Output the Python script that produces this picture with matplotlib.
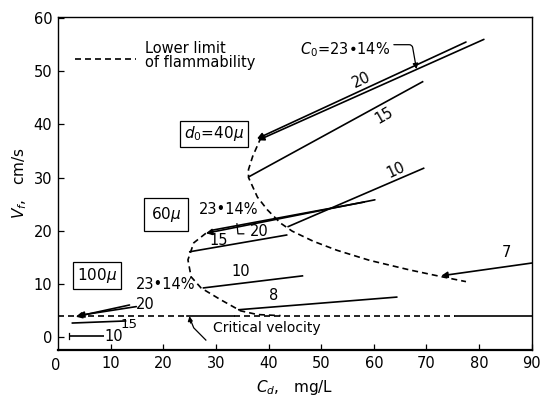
import matplotlib
matplotlib.use('Agg')
import matplotlib.pyplot as plt

plt.rcParams['font.family'] = ['DejaVu Sans']

# lower limit of flammability curves
limit_40_x = [38.6, 37.0, 36.2, 36.2, 37.9, 39.8, 42.3, 44.5, 48.5, 53.0, 59.2, 66.8, 73.0, 77.5]
limit_40_y = [37.6, 34.0, 31.5, 30.0, 26.3, 23.9, 21.4, 19.9, 18.0, 16.3, 14.4, 12.6, 11.3, 10.4]
limit_60_x = [28.1, 25.8, 24.7, 25.3, 27.2, 30.9, 34.7, 37.9, 42.3]
limit_60_y = [19.5, 17.7, 14.5, 11.3, 9.2, 7.0, 4.9, 4.2, 4.0]

critical_v = 4.0
critical_dashed = [(0, 24.5), (33.5, 75.5)]
critical_solid = [(24.5, 33.5), (75.5, 90)]

# V_f lines, (x_start, x_end), (y_start, y_end)
d40_x = {'23.14': (37.8, 77.5), '20': (38.0, 80.9), '15': (36.2, 69.4), '10': (43.6, 69.6), '7': (72.8, 90.0)}
d40_y = {'23.14': (37.3, 55.5), '20': (37.0, 56.0), '15': (30.1, 48.1), '10': (20.7, 31.8), '7': (11.5, 13.9)}
d60_x = {'23.14': (28.1, 60.2), '20': (29.4, 58.3), '15': (24.9, 43.6), '10': (27.5, 46.6), '8': (34.2, 64.5)}
d60_y = {'23.14': (19.5, 25.8), '20': (20.1, 25.4), '15': (16.0, 19.2), '10': (9.2, 11.5), '8': (5.1, 7.5)}
d100_x = {'23.14': (3.4, 13.6), '20': (3.8, 14.9), '15': (2.6, 13.0), '10': (2.1, 8.7)}
d100_y = {'23.14': (3.8, 6.0), '20': (4.0, 5.7), '15': (2.6, 3.0), '10': (0.2, 0.2)}

arrowed = {'40': ['23.14', '20', '7'], '60': ['23.14'], '100': ['23.14', '20']}

x_ticks = [10, 20, 30, 40, 50, 60, 70, 80, 90]
x_tick_labels = ['10', '20', '30', '40', '50', '60', '70', '80', '90']
y_ticks = [0, 10, 20, 30, 40, 50, 60]
y_tick_labels = ['0', '10', '20', '30', '40', '50', '60']

DASH = (3.6, 2.4)
LW = 1.2


def draw_lines(ax, xs, ys, arrows, lw=LW):
    for key in xs:
        x0, x1 = xs[key]
        y0, y1 = ys[key]
        if key in arrows:
            ax.annotate('', xy=(x0, y0), xytext=(x1, y1),
                        arrowprops=dict(arrowstyle='-|>', lw=lw, color='black',
                                        mutation_scale=9, shrinkA=0, shrinkB=0))
        else:
            ax.plot([x0, x1], [y0, y1], color='black', lw=lw, solid_capstyle='butt')


def box_label(ax, x, y, text, pad=0.25):
    ax.text(x, y, text, ha='center', va='center', fontsize=11,
            bbox=dict(boxstyle='square,pad=%s' % pad, facecolor='white', edgecolor='black', lw=0.9))


fig = plt.figure(figsize=(5.46, 3.97), dpi=100)
ax = fig.add_axes([0.106, 0.118, 0.868, 0.839])
ax.set_xlim(0, 90)
ax.set_ylim(-2.5, 60.2)

# flammability limits and critical velocity
ax.plot(limit_40_x, limit_40_y, color='black', lw=LW, dashes=DASH)
ax.plot(limit_60_x, limit_60_y, color='black', lw=LW, dashes=DASH)
for a, b in critical_dashed:
    ax.plot([a, b], [critical_v, critical_v], color='black', lw=LW, dashes=DASH)
for a, b in critical_solid:
    ax.plot([a, b], [critical_v, critical_v], color='black', lw=LW)

draw_lines(ax, d40_x, d40_y, arrowed['40'])
draw_lines(ax, d60_x, d60_y, arrowed['60'])
draw_lines(ax, d100_x, d100_y, arrowed['100'])
ax.plot([d100_x['10'][0]] * 2, [-0.4, 0.8], color='black', lw=0.9)

# legend for dashed line
ax.plot([3.2, 14.9], [52.4, 52.4], color='black', lw=LW, dashes=DASH)
ax.text(16.6, 53.0, 'Lower limit\nof flammability', ha='left', va='center',
        fontsize=10.5, linespacing=0.95)

box_label(ax, 29.6, 38.2, r'$d_0$=40$\mu$')
box_label(ax, 20.6, 23.1, r'60$\mu$', pad=0.45)
box_label(ax, 7.4, 11.5, r'100$\mu$')

ax.text(54.5, 54.0, r'$C_0$=23•14%', ha='center', va='center', fontsize=10.5)
ax.annotate('', xy=(68.1, 50.4), xytext=(63.8, 55.0),
            arrowprops=dict(arrowstyle='-|>', lw=0.9, color='black', mutation_scale=8,
                            connectionstyle='angle,angleA=0,angleB=100,rad=3',
                            shrinkA=0, shrinkB=0))
ax.text(32.5, 24.0, '23•14%', ha='center', va='center', fontsize=10.5)
ax.text(20.4, 9.8, '23•14%', ha='center', va='center', fontsize=10.5)

# curve labels
ax.text(57.7, 48.4, '20', ha='center', va='center', fontsize=10.5, rotation=25)
ax.text(61.9, 41.6, '15', ha='center', va='center', fontsize=10.5, rotation=30)
ax.text(64.2, 31.4, '10', ha='center', va='center', fontsize=10.5, rotation=25)
ax.text(85.1, 15.8, '7', ha='center', va='center', fontsize=10.5)
ax.text(41.0, 7.7, '8', ha='center', va='center', fontsize=10.5)
ax.text(34.7, 12.3, '10', ha='center', va='center', fontsize=10.5)
ax.text(30.6, 18.1, '15', ha='center', va='center', fontsize=10.5)
ax.text(38.3, 19.8, '20', ha='center', va='center', fontsize=10.5)
ax.plot([34.0, 34.2, 35.3], [21.3, 19.4, 19.4], color='black', lw=0.9)
ax.text(16.6, 6.0, '20', ha='center', va='center', fontsize=10.5)
ax.text(13.6, 2.4, '15', ha='center', va='center', fontsize=9.5)
ax.text(10.6, 0.0, '10', ha='center', va='center', fontsize=10.5)

ax.text(29.4, 1.6, 'Critical velocity', ha='left', va='center', fontsize=10)
ax.plot([28.1, 25.8, 25.1], [-0.6, 1.7, 3.4], color='black', lw=0.9)
ax.annotate('', xy=(25.0, 3.9), xytext=(25.2, 2.6),
            arrowprops=dict(arrowstyle='-|>', lw=0.9, color='black', mutation_scale=7,
                            shrinkA=0, shrinkB=0))

ax.set_xticks(x_ticks)
ax.set_xticklabels(x_tick_labels)
ax.set_yticks(y_ticks)
ax.set_yticklabels(y_tick_labels)
ax.tick_params(direction='in', length=4, width=0.9, labelsize=10.5, pad=4)
for s in ax.spines.values():
    s.set_linewidth(1.0)
ax.spines['bottom'].set_linewidth(1.6)

ax.text(-0.5, -5.4, '0', ha='center', va='center', fontsize=10.5)
ax.set_xlabel(r'$C_d$,   mg/L', fontsize=11, labelpad=5)
ax.set_ylabel(r'$V_f$,   cm/s', fontsize=11, labelpad=3)

fig.savefig('out.png', dpi=100)
